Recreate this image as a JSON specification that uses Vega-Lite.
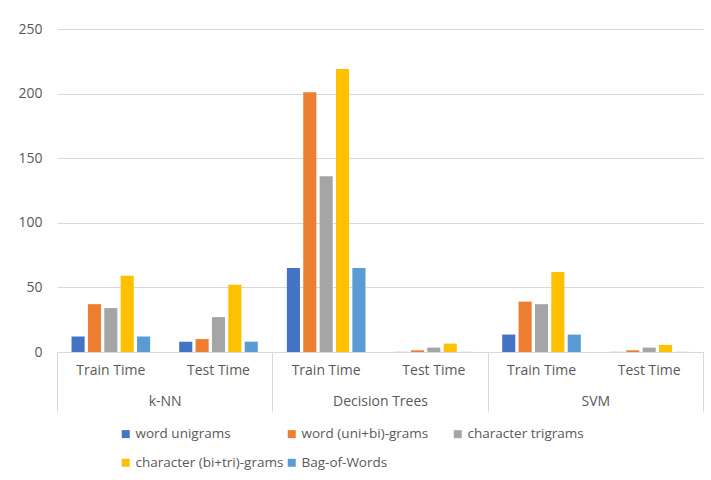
{
  "$schema": "https://vega.github.io/schema/vega-lite/v6.json",
  "width": 646,
  "height": 323,
  "autosize": {"type": "none"},
  "padding": {"left": 57, "top": 29, "right": 8, "bottom": 128},
  "background": "white",
  "config": {
    "font": "Open Sans",
    "view": {"stroke": null},
    "axis": {"labelFont": "Open Sans", "labelFontSize": 14, "labelColor": "#595959", "title": null}
  },
  "data": {
    "values": [
      {"model": "k-NN", "phase": "Train Time", "series": "word unigrams", "value": 12},
      {"model": "k-NN", "phase": "Train Time", "series": "word (uni+bi)-grams", "value": 37},
      {"model": "k-NN", "phase": "Train Time", "series": "character trigrams", "value": 34},
      {"model": "k-NN", "phase": "Train Time", "series": "character (bi+tri)-grams", "value": 59},
      {"model": "k-NN", "phase": "Train Time", "series": "Bag-of-Words", "value": 12},
      {"model": "k-NN", "phase": "Test Time", "series": "word unigrams", "value": 8},
      {"model": "k-NN", "phase": "Test Time", "series": "word (uni+bi)-grams", "value": 10},
      {"model": "k-NN", "phase": "Test Time", "series": "character trigrams", "value": 27},
      {"model": "k-NN", "phase": "Test Time", "series": "character (bi+tri)-grams", "value": 52},
      {"model": "k-NN", "phase": "Test Time", "series": "Bag-of-Words", "value": 8},
      {"model": "Decision Trees", "phase": "Train Time", "series": "word unigrams", "value": 65},
      {"model": "Decision Trees", "phase": "Train Time", "series": "word (uni+bi)-grams", "value": 201},
      {"model": "Decision Trees", "phase": "Train Time", "series": "character trigrams", "value": 136},
      {"model": "Decision Trees", "phase": "Train Time", "series": "character (bi+tri)-grams", "value": 219},
      {"model": "Decision Trees", "phase": "Train Time", "series": "Bag-of-Words", "value": 65},
      {"model": "Decision Trees", "phase": "Test Time", "series": "word unigrams", "value": 0.1},
      {"model": "Decision Trees", "phase": "Test Time", "series": "word (uni+bi)-grams", "value": 1.3},
      {"model": "Decision Trees", "phase": "Test Time", "series": "character trigrams", "value": 3.4},
      {"model": "Decision Trees", "phase": "Test Time", "series": "character (bi+tri)-grams", "value": 6.5},
      {"model": "Decision Trees", "phase": "Test Time", "series": "Bag-of-Words", "value": 0.1},
      {"model": "SVM", "phase": "Train Time", "series": "word unigrams", "value": 13.5},
      {"model": "SVM", "phase": "Train Time", "series": "word (uni+bi)-grams", "value": 39},
      {"model": "SVM", "phase": "Train Time", "series": "character trigrams", "value": 37},
      {"model": "SVM", "phase": "Train Time", "series": "character (bi+tri)-grams", "value": 62},
      {"model": "SVM", "phase": "Train Time", "series": "Bag-of-Words", "value": 13.5},
      {"model": "SVM", "phase": "Test Time", "series": "word unigrams", "value": 0.1},
      {"model": "SVM", "phase": "Test Time", "series": "word (uni+bi)-grams", "value": 1.3},
      {"model": "SVM", "phase": "Test Time", "series": "character trigrams", "value": 3.4},
      {"model": "SVM", "phase": "Test Time", "series": "character (bi+tri)-grams", "value": 5.5},
      {"model": "SVM", "phase": "Test Time", "series": "Bag-of-Words", "value": 0.1}
    ]
  },
  "transform": [{"calculate": "datum.model + '|' + datum.phase", "as": "cat"}],
  "layer": [
    {
      "mark": {"type": "bar"},
      "encoding": {
        "x": {
          "field": "cat",
          "type": "nominal",
          "sort": null,
          "scale": {"paddingInner": 0.27, "paddingOuter": 0.135},
          "axis": {
            "orient": "bottom",
            "labelExpr": "split(datum.label, '|')[1]",
            "labelAngle": 0,
            "ticks": false,
            "tickSize": 0,
            "labelPadding": 11,
            "domain": true,
            "domainColor": "#d9d9d9",
            "domainWidth": 1,
            "grid": false
          }
        },
        "xOffset": {
          "field": "series",
          "type": "nominal",
          "sort": null,
          "scale": {"paddingInner": 0.2, "paddingOuter": 0}
        },
        "y": {
          "field": "value",
          "type": "quantitative",
          "scale": {"domain": [0, 250], "nice": false},
          "axis": {
            "values": [0, 50, 100, 150, 200, 250],
            "domain": false,
            "ticks": false,
            "labelPadding": 15,
            "gridColor": "#d9d9d9",
            "gridWidth": 1
          }
        },
        "color": {
          "field": "series",
          "type": "nominal",
          "sort": null,
          "scale": {
            "domain": ["word unigrams", "word (uni+bi)-grams", "character trigrams", "character (bi+tri)-grams", "Bag-of-Words"],
            "range": ["#4472C4", "#ED7D31", "#A5A5A5", "#FFC000", "#5B9BD5"]
          },
          "legend": {
            "title": null,
            "orient": "none",
            "legendX": 62,
            "legendY": 398,
            "direction": "horizontal",
            "columns": 3,
            "gridAlign": "all",
            "symbolType": "square",
            "symbolSize": 64,
            "symbolStrokeWidth": 0,
            "labelFont": "Open Sans",
            "labelFontSize": 13.5,
            "labelColor": "#595959",
            "labelOffset": 3,
            "columnPadding": 1,
            "rowPadding": 14
          }
        }
      }
    },
    {
      "mark": {"type": "rule", "opacity": 0},
      "encoding": {
        "x": {
          "field": "model",
          "type": "nominal",
          "sort": null,
          "scale": {"paddingInner": 0, "paddingOuter": 0},
          "axis": {
            "orient": "bottom",
            "labelAngle": 0,
            "domain": false,
            "ticks": true,
            "tickBand": "extent",
            "tickSize": 60,
            "tickColor": "#d9d9d9",
            "tickWidth": 1,
            "labelPadding": -18,
            "grid": false
          }
        },
        "y": {"datum": 0},
        "y2": {"datum": 0}
      }
    }
  ],
  "resolve": {"scale": {"x": "independent"}, "axis": {"x": "independent"}}
}
